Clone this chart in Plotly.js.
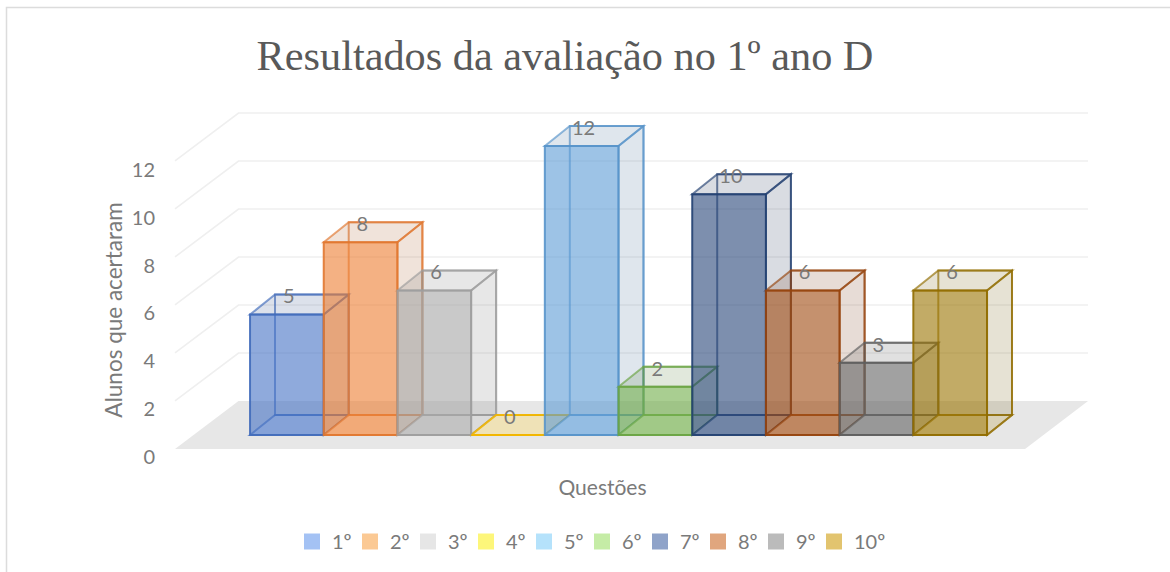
<!DOCTYPE html>
<html><head><meta charset="utf-8">
<script src="https://cdn.plot.ly/plotly-3.0.0.min.js"></script>
<style>html,body{margin:0;padding:0;background:#fff}#c{width:1170px;height:572px}</style>
</head><body><div id="c"></div>
<script>
const categories = ["1º","2º","3º","4º","5º","6º","7º","8º","9º","10º"];
const values = [5,8,6,0,12,2,10,6,3,6];
const baseColors = [[68,114,196],[237,125,49],[165,165,165],[255,192,0],[91,155,213],[112,173,71],[38,68,120],[158,72,14],[99,99,99],[153,115,0]];
const legendColors = ["#a4c2f4","#fbc994","#e6e6e6","#fdf67a","#b5e2fb","#c5eca6","#8fa3c9","#e0a67e","#bbbbbb","#e2c46f"];
const yTicks = [0,2,4,6,8,10,12];

const FONT = "Lato, 'Open Sans', sans-serif";
const TXT = "#7a7a7a";
const DX = 0.339, DY = 0.83, HALF = 0.5;
const rgba = (c,a,m=1) => `rgba(${Math.round(c[0]*m)},${Math.round(c[1]*m)},${Math.round(c[2]*m)},${a})`;
const tint = (c,t,a) => `rgba(${c.map(u=>Math.round(255-(255-u)*t)).join(",")},${a})`;
const poly = pts => "M" + pts.map(p => p[0].toFixed(3)+","+p[1].toFixed(3)).join("L") + "Z";
const shapes = [];
const dataShape = (path, fill, line, w) => shapes.push({type:"path",xref:"x",yref:"y",layer:"below",path,
  fillcolor:fill,line:{color:line,width:w}});

// frame (paper coordinates are relative to the plot area)
shapes.push({type:"rect",xref:"paper",yref:"paper",x0:(6.5-110)/985,x1:1.2,y0:-0.3,y1:(520-7.5)/420,layer:"below",
  fillcolor:"rgba(0,0,0,0)",line:{color:"#dcdcdc",width:1.5}});

// floor
const fx0=-1.518, fx1=-0.656, fx2=10.871, fx3=10.016, fyF=-0.58, fyB=1.41, k=0.9967;
dataShape(poly([[fx0,fyF],[fx1,fyB],[fx2,fyB],[fx3,fyF]]),"#e7e7e7","rgba(0,0,0,0)",0);
// wall gridlines
yTicks.slice(1).forEach(t => shapes.push({type:"path",xref:"x",yref:"y",layer:"below",
  path:`M${fx0},${t*k+fyF}L${fx1},${t*k+fyB}L${fx2},${t*k+fyB}`,fillcolor:"rgba(0,0,0,0)",line:{color:"#efefef",width:1.6}}));

// depth faces of each column
values.forEach((v,i) => {
  const c = baseColors[i], xl=i-HALF, xr=i+HALF;
  const fill = rgba(c,0.17,0.7), edge = rgba(c,0.66,0.95), floorFill = tint(c,0.14,0.85);
  dataShape(poly([[xl,0],[xl+DX,DY],[xr+DX,DY],[xr,0]]),floorFill,edge,2);
  dataShape(poly([[xl+DX,DY],[xr+DX,DY],[xr+DX,v+DY],[xl+DX,v+DY]]),"rgba(0,0,0,0)",edge,2);
  dataShape(poly([[xr,0],[xr+DX,DY],[xr+DX,v+DY],[xr,v]]),fill,edge,2);
  dataShape(poly([[xl,v],[xl+DX,v+DY],[xr+DX,v+DY],[xr,v]]),fill,edge,2);
});

const traces = [];
traces.push({type:"bar",x:categories.map((_,i)=>i),y:values,width:categories.map(()=>1),
  showlegend:false,hoverinfo:"skip",
  marker:{color:baseColors.map(c=>rgba(c,0.6)),line:{color:baseColors.map(c=>rgba(c,0.9,0.95)),width:2}}});
traces.push({type:"scatter",mode:"text",x:categories.map((_,i)=>i+0.025),y:values.map(v=>v+0.67),
  text:values.map(String),textposition:"middle center",textfont:{family:FONT,size:20,color:TXT},
  showlegend:false,hoverinfo:"skip"});
categories.forEach((n,i)=>traces.push({type:"scatter",mode:"markers",name:n,x:[null],y:[null],
  marker:{symbol:"square",size:16,color:legendColors[i]},showlegend:true}));
// blank trailing entry keeps the last label from being cut at the legend's edge
traces.push({type:"scatter",mode:"markers",name:" ",x:[null],y:[null],marker:{symbol:"square",size:16,color:"rgba(0,0,0,0)"},showlegend:true});
traces.push({type:"scatter",mode:"markers",x:[0],y:[0],yaxis:"y2",marker:{opacity:0},showlegend:false,hoverinfo:"skip"});

const layout = {
  width:1170,height:572,paper_bgcolor:"#fff",plot_bgcolor:"rgba(0,0,0,0)",
  margin:{l:110,r:75,t:100,b:52,autoexpand:false},
  barmode:"overlay",showlegend:true,hovermode:false,
  title:{text:"Resultados da avaliação no 1º ano D",x:565/1170,xanchor:"center",y:1-55/572,yanchor:"middle",
    font:{family:"'Liberation Serif', serif",size:42.3,color:"#595959"}},
  font:{family:FONT,color:TXT,size:20},
  xaxis:{range:[-2.4,10.965],anchor:"free",position:0.138,showgrid:false,zeroline:false,showline:false,ticks:"",showticklabels:false,
    title:{text:"Questões",standoff:18,font:{family:FONT,size:21,color:TXT}}},
  yaxis:{range:[-3.53,13.91],visible:false,showgrid:false,zeroline:false},
  yaxis2:{range:[-2.634,14.925],overlaying:"y",anchor:"free",position:0.0457,side:"left",tickmode:"array",tickvals:yTicks,
    ticktext:yTicks.map(String),showgrid:false,zeroline:false,showline:false,ticks:"",tickfont:{family:FONT,size:20,color:TXT},
    title:{text:"Alunos que acertaram",standoff:1,font:{family:FONT,size:22.5,color:TXT}}},
  legend:{orientation:"h",x:(304-110)/985,xanchor:"left",y:(520-522)/420,yanchor:"top",font:{family:FONT,size:20,color:TXT},
    entrywidth:25,entrywidthmode:"pixels",indentation:-12,traceorder:"normal",bgcolor:"rgba(0,0,0,0)"},
  shapes
};
Plotly.newPlot("c",traces,layout,{displayModeBar:false,staticPlot:true});
</script></body></html>
